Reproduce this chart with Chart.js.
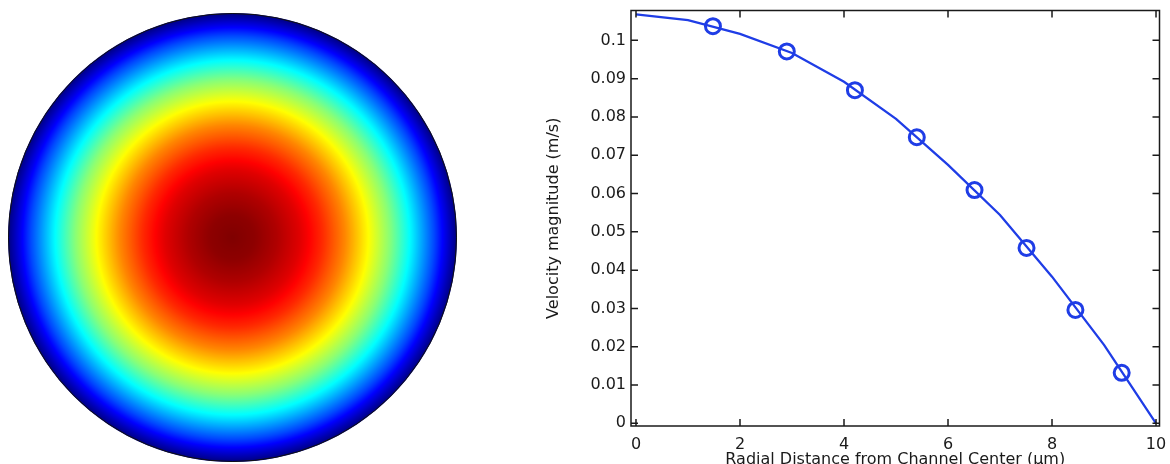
<!DOCTYPE html>
<html>
<head>
<meta charset="utf-8">
<script src="https://cdn.jsdelivr.net/npm/chart.js@4.4.1/dist/chart.umd.min.js"></script>
<style>
  html, body { margin: 0; padding: 0; background: #fff; width: 1170px; height: 464px; overflow: hidden; }
  #disc { position: absolute; left: 8px; top: 13px; }
  #profile { position: absolute; left: 540px; top: 0; }
</style>
</head>
<body>
<canvas id="disc" width="449" height="449"></canvas>
<canvas id="profile" width="630" height="472"></canvas>
<script>
// velocity profile along the radius (polyline from the solution)
const radius = [0, 1, 2, 3, 4, 5, 6, 7, 8, 9, 10];
const velocity = [0.1068, 0.1053, 0.1017, 0.0967, 0.0892, 0.0795, 0.0675, 0.0544, 0.0383, 0.0205, 0];

// circle markers
const markerR = [1.48, 2.90, 4.21, 5.40, 6.51, 7.51, 8.45, 9.34];
const markerV = [0.1037, 0.0971, 0.0870, 0.0747, 0.0609, 0.0458, 0.0296, 0.0132];

const xTicks = [0, 2, 4, 6, 8, 10];
const xTickLabels = ['0', '2', '4', '6', '8', '10'];
const yTicks = [0, 0.01, 0.02, 0.03, 0.04, 0.05, 0.06, 0.07, 0.08, 0.09, 0.1];
const yTickLabels = ['0', '0.01', '0.02', '0.03', '0.04', '0.05', '0.06', '0.07', '0.08', '0.09', '0.1'];

Chart.defaults.font.family = 'DejaVu Sans';
Chart.defaults.font.size = 16;
Chart.defaults.color = '#1a1a1a';

const blue = '#1f3de6';

function jet(t) {
    const c = x => Math.round(255 * Math.max(0, Math.min(1, x)));
    return 'rgb(' + c(1.5 - Math.abs(4 * t - 3)) + ',' + c(1.5 - Math.abs(4 * t - 2)) + ',' + c(1.5 - Math.abs(4 * t - 1)) + ')';
}

function velocityAt(r) {
    for (let i = 1; i < radius.length; i++) {
        if (r <= radius[i]) {
            const f = (r - radius[i - 1]) / (radius[i] - radius[i - 1]);
            return velocity[i - 1] + f * (velocity[i] - velocity[i - 1]);
        }
    }
    return velocity[velocity.length - 1];
}

// surface plot: disc coloured by velocity magnitude
function discFill(context) {
    const chart = context.chart;
    const a = chart.chartArea;
    if (!a) return '#000080';
    const cx = (a.left + a.right) / 2;
    const cy = (a.top + a.bottom) / 2;
    const R = Math.min(a.right - a.left, a.bottom - a.top) / 2;
    const g = chart.ctx.createRadialGradient(cx, cy, 0, cx, cy, R);
    const vmax = Math.max(...velocity);
    const rmax = radius[radius.length - 1];
    for (let i = 0; i <= 200; i++) {
        const f = i / 200;
        g.addColorStop(f, jet(velocityAt(f * rmax) / vmax));
    }
    return g;
}

const discEdge = {
    id: 'discEdge',
    afterDatasetsDraw(chart) {
        const arc = chart.getDatasetMeta(0).data[0];
        const ctx = chart.ctx;
        ctx.save();
        ctx.strokeStyle = '#111';
        ctx.lineWidth = 1;
        ctx.beginPath();
        ctx.arc(arc.x, arc.y, arc.outerRadius - 0.5, 0, Math.PI * 2);
        ctx.stroke();
        ctx.restore();
    }
};

new Chart(document.getElementById('disc'), {
    type: 'doughnut',
    data: {
        datasets: [{ data: [1], borderWidth: 0, backgroundColor: discFill }]
    },
    options: {
        responsive: false,
        animation: false,
        cutout: 0,
        events: [],
        plugins: { legend: { display: false }, tooltip: { enabled: false } }
    },
    plugins: [discEdge]
});

// box frame with inward ticks on all four sides
const frame = {
    id: 'frame',
    afterDraw(chart) {
        const { ctx, chartArea: a, scales: { x, y } } = chart;
        ctx.save();
        ctx.strokeStyle = '#1a1a1a';
        ctx.lineWidth = 1.5;
        ctx.strokeRect(a.left, a.top, a.right - a.left, a.bottom - a.top);
        ctx.beginPath();
        xTicks.forEach(v => {
            const px = x.getPixelForValue(v);
            ctx.moveTo(px, a.bottom); ctx.lineTo(px, a.bottom - 7);
            ctx.moveTo(px, a.top); ctx.lineTo(px, a.top + 7);
        });
        yTicks.forEach(v => {
            const py = y.getPixelForValue(v);
            ctx.moveTo(a.left, py); ctx.lineTo(a.left + 7, py);
            ctx.moveTo(a.right, py); ctx.lineTo(a.right - 7, py);
        });
        ctx.stroke();
        ctx.restore();
    }
};

new Chart(document.getElementById('profile'), {
    type: 'scatter',
    data: {
        datasets: [
            {
                data: radius.map((r, i) => ({ x: r, y: velocity[i] })),
                showLine: true,
                borderColor: blue,
                borderWidth: 2.3,
                pointRadius: 0,
                fill: false
            },
            {
                data: markerR.map((r, i) => ({ x: r, y: markerV[i] })),
                showLine: false,
                pointStyle: 'circle',
                pointRadius: 7.5,
                pointBorderWidth: 3,
                pointBorderColor: blue,
                pointBackgroundColor: 'rgba(0,0,0,0)'
            }
        ]
    },
    options: {
        responsive: false,
        animation: false,
        events: [],
        layout: { padding: { left: 0, right: 10, top: 10, bottom: 0 } },
        plugins: { legend: { display: false }, tooltip: { enabled: false } },
        scales: {
            x: {
                type: 'linear',
                min: -0.096,
                max: 10.067,
                afterBuildTicks: s => { s.ticks = xTicks.map(v => ({ value: v })); },
                afterFit: s => { s.height = 46; s.paddingLeft = 0; s.paddingRight = 0; },
                grid: { display: false, drawTicks: false },
                border: { display: false },
                ticks: {
                    padding: 9,
                    maxRotation: 0,
                    autoSkip: false,
                    callback: v => xTickLabels[xTicks.indexOf(v)]
                },
                title: {
                    display: true,
                    text: 'Radial Distance from Channel Center (\u03bcm)',
                    padding: { top: 0, bottom: 3 }
                }
            },
            y: {
                type: 'linear',
                min: -0.0007,
                max: 0.1078,
                afterBuildTicks: s => { s.ticks = yTicks.map(v => ({ value: v })); },
                afterFit: s => { s.width = 91; s.paddingTop = 0; s.paddingBottom = 0; },
                grid: { display: false, drawTicks: false },
                border: { display: false },
                ticks: {
                    padding: 5,
                    autoSkip: false,
                    callback: v => yTickLabels[yTicks.indexOf(v)]
                },
                title: {
                    display: true,
                    text: 'Velocity magnitude (m/s)',
                    padding: { top: 4, bottom: 0 }
                }
            }
        }
    },
    plugins: [frame]
});
</script>
</body>
</html>
